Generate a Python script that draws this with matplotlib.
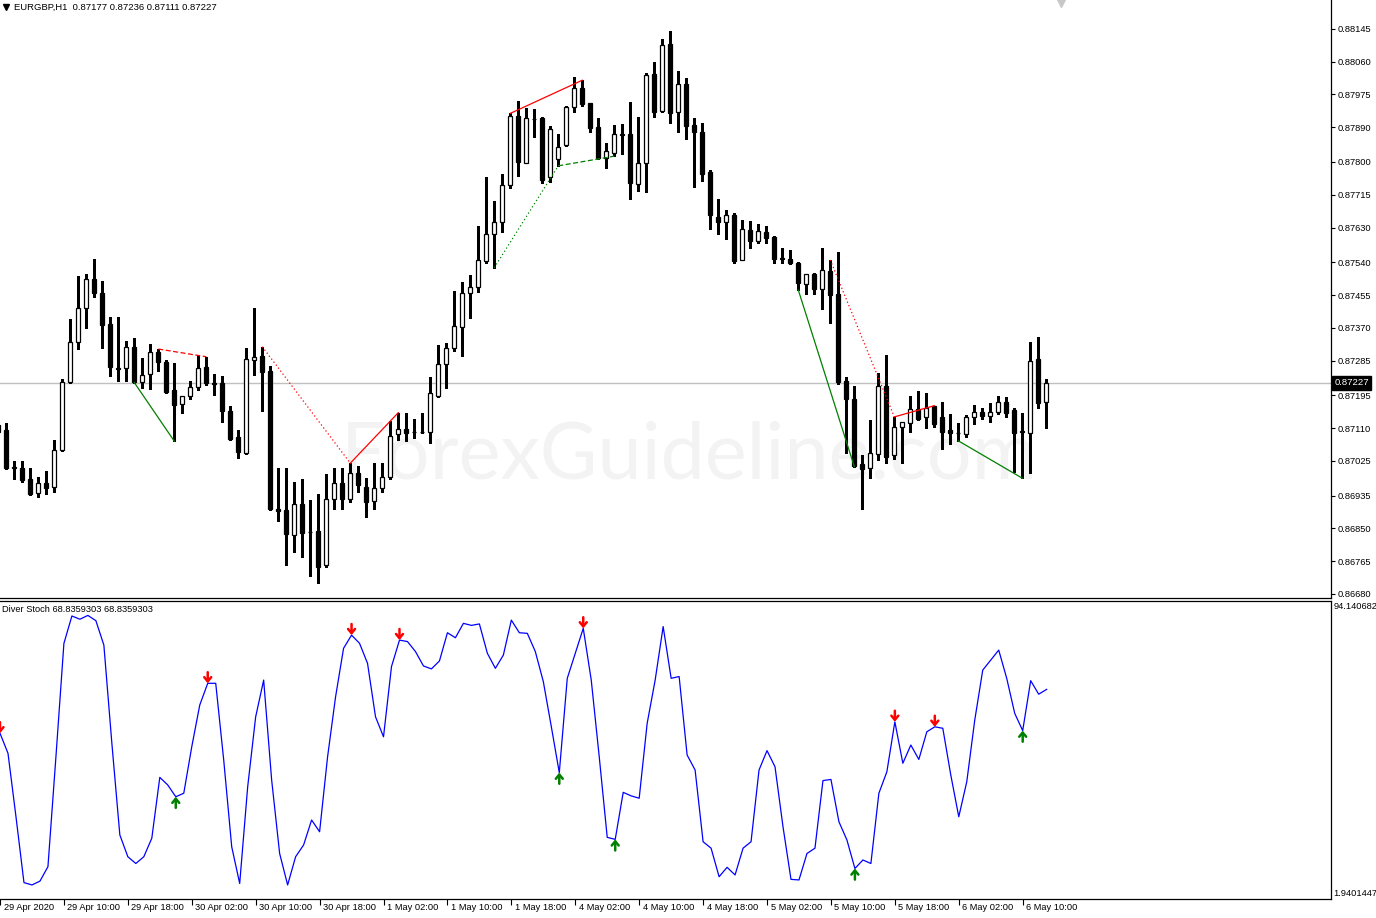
import matplotlib
matplotlib.use('Agg')
import matplotlib.pyplot as plt
from matplotlib.transforms import ScaledTranslation, blended_transform_factory
import numpy as np

# EURGBP H1 bars, index -1 .. 130 (last bar = 6 May 13:00)
opens = [0.87118, 0.87105, 0.87009, 0.87006, 0.86978, 0.86941, 0.86967, 0.86956, 0.87052, 0.87230,
         0.87332, 0.87421, 0.87496, 0.87460, 0.87380, 0.87265, 0.87265, 0.87319, 0.87230, 0.87249,
         0.87306, 0.87281, 0.87208, 0.87172, 0.87192, 0.87216, 0.87268, 0.87226, 0.87226, 0.87154,
         0.87086, 0.87045, 0.87286, 0.87297, 0.87258, 0.86900, 0.86898, 0.86832, 0.86912, 0.86841,
         0.86843, 0.86754, 0.86925, 0.86967, 0.86925, 0.86993, 0.86956, 0.86921, 0.86954, 0.86984,
         0.87094, 0.87107, 0.87099, 0.87100, 0.87101, 0.87193, 0.87275, 0.87317, 0.87371, 0.87460,
         0.87477, 0.87544, 0.87612, 0.87644, 0.87740, 0.87918, 0.87798, 0.87912, 0.87913, 0.87760,
         0.87807, 0.87843, 0.87942, 0.87991, 0.87953, 0.87891, 0.87811, 0.87822, 0.87871, 0.87873,
         0.87742, 0.87797, 0.88028, 0.87933, 0.88106, 0.87930, 0.88001, 0.87895, 0.87878, 0.87774,
         0.87657, 0.87644, 0.87663, 0.87546, 0.87623, 0.87594, 0.87618, 0.87606, 0.87550, 0.87548,
         0.87537, 0.87483, 0.87510, 0.87470, 0.87517, 0.87458, 0.87232, 0.87185, 0.87017, 0.87006,
         0.87043, 0.87219, 0.87039, 0.87112, 0.87122, 0.87159, 0.87138, 0.87167, 0.87138, 0.87105,
         0.87098, 0.87094, 0.87138, 0.87151, 0.87142, 0.87151, 0.87177, 0.87157, 0.87102, 0.87096,
         0.87289, 0.87177]
highs = [0.87131, 0.87124, 0.87025, 0.87025, 0.87006, 0.86982, 0.86999, 0.87078, 0.87236, 0.87393,
         0.87504, 0.87510, 0.87548, 0.87491, 0.87399, 0.87397, 0.87336, 0.87343, 0.87291, 0.87327,
         0.87315, 0.87287, 0.87278, 0.87194, 0.87231, 0.87299, 0.87295, 0.87250, 0.87245, 0.87167,
         0.87105, 0.87318, 0.87421, 0.87321, 0.87271, 0.87006, 0.87006, 0.86969, 0.86977, 0.86923,
         0.86938, 0.86990, 0.87006, 0.87007, 0.87019, 0.87012, 0.86980, 0.87019, 0.87019, 0.87129,
         0.87150, 0.87148, 0.87133, 0.87148, 0.87243, 0.87325, 0.87331, 0.87465, 0.87489, 0.87507,
         0.87634, 0.87762, 0.87699, 0.87769, 0.87926, 0.87958, 0.87939, 0.87937, 0.87916, 0.87893,
         0.87873, 0.87944, 0.88020, 0.88012, 0.87953, 0.87913, 0.87848, 0.87895, 0.87898, 0.87956,
         0.87916, 0.88030, 0.88058, 0.88119, 0.88140, 0.88036, 0.88017, 0.87913, 0.87900, 0.87779,
         0.87704, 0.87675, 0.87668, 0.87650, 0.87647, 0.87639, 0.87634, 0.87608, 0.87576, 0.87572,
         0.87540, 0.87510, 0.87513, 0.87576, 0.87546, 0.87566, 0.87242, 0.87219, 0.87040, 0.87131,
         0.87252, 0.87299, 0.87139, 0.87126, 0.87193, 0.87206, 0.87200, 0.87168, 0.87177, 0.87146,
         0.87122, 0.87144, 0.87170, 0.87161, 0.87174, 0.87194, 0.87190, 0.87161, 0.87148, 0.87333,
         0.87345, 0.87236]
lows = [0.87079, 0.87005, 0.86979, 0.86971, 0.86936, 0.86932, 0.86938, 0.86943, 0.87050, 0.87228,
        0.87314, 0.87370, 0.87451, 0.87318, 0.87245, 0.87233, 0.87233, 0.87228, 0.87215, 0.87211,
        0.87259, 0.87200, 0.87076, 0.87148, 0.87185, 0.87209, 0.87222, 0.87197, 0.87127, 0.87080,
        0.87033, 0.87043, 0.87248, 0.87155, 0.86898, 0.86870, 0.86754, 0.86789, 0.86775, 0.86727,
        0.86707, 0.86749, 0.86899, 0.86899, 0.86919, 0.86944, 0.86880, 0.86901, 0.86943, 0.86977,
        0.87078, 0.87077, 0.87083, 0.87098, 0.87071, 0.87191, 0.87215, 0.87311, 0.87298, 0.87396,
        0.87464, 0.87539, 0.87526, 0.87619, 0.87733, 0.87764, 0.87797, 0.87866, 0.87746, 0.87749,
        0.87790, 0.87841, 0.87930, 0.87946, 0.87879, 0.87808, 0.87784, 0.87815, 0.87821, 0.87703,
        0.87726, 0.87723, 0.87917, 0.87930, 0.87902, 0.87879, 0.87860, 0.87736, 0.87751, 0.87625,
        0.87612, 0.87599, 0.87537, 0.87545, 0.87578, 0.87591, 0.87591, 0.87537, 0.87539, 0.87536,
        0.87468, 0.87457, 0.87457, 0.87418, 0.87383, 0.87223, 0.87045, 0.87010, 0.86900, 0.86980,
        0.87027, 0.87020, 0.87029, 0.87020, 0.87101, 0.87130, 0.87109, 0.87112, 0.87057, 0.87068,
        0.87077, 0.87086, 0.87121, 0.87134, 0.87127, 0.87146, 0.87139, 0.86997, 0.86980, 0.86994,
        0.87163, 0.87111]
closes = [0.87100, 0.87007, 0.87006, 0.86975, 0.86938, 0.86967, 0.86954, 0.87052, 0.87230, 0.87332,
          0.87421, 0.87496, 0.87461, 0.87378, 0.87269, 0.87262, 0.87319, 0.87230, 0.87247, 0.87306,
          0.87282, 0.87204, 0.87171, 0.87194, 0.87216, 0.87265, 0.87226, 0.87225, 0.87155, 0.87082,
          0.87049, 0.87288, 0.87294, 0.87256, 0.86900, 0.86894, 0.86835, 0.86912, 0.86839, 0.86840,
          0.86751, 0.86925, 0.86967, 0.86925, 0.86993, 0.86962, 0.86919, 0.86954, 0.86984, 0.87090,
          0.87107, 0.87096, 0.87100, 0.87101, 0.87200, 0.87275, 0.87317, 0.87375, 0.87460, 0.87476,
          0.87546, 0.87612, 0.87644, 0.87740, 0.87918, 0.87801, 0.87913, 0.87911, 0.87753, 0.87885,
          0.87838, 0.87942, 0.87991, 0.87951, 0.87889, 0.87810, 0.87828, 0.87872, 0.87872, 0.87745,
          0.87797, 0.88026, 0.87930, 0.88103, 0.87928, 0.88001, 0.87894, 0.87879, 0.87770, 0.87663,
          0.87644, 0.87662, 0.87544, 0.87625, 0.87594, 0.87620, 0.87604, 0.87548, 0.87549, 0.87537,
          0.87485, 0.87509, 0.87470, 0.87520, 0.87454, 0.87230, 0.87186, 0.87012, 0.87003, 0.87045,
          0.87219, 0.87036, 0.87112, 0.87125, 0.87159, 0.87134, 0.87163, 0.87121, 0.87101, 0.87096,
          0.87097, 0.87138, 0.87151, 0.87142, 0.87151, 0.87177, 0.87150, 0.87098, 0.87101, 0.87283,
          0.87174, 0.87227]

# Diver Stoch main line
stoch = [53.9, 47.1, 25.5, 3.1, 2.3, 3.6, 8.5, 45.9, 84.5, 93.8,
         92.7, 94.0, 92.2, 83.9, 50.5, 19.3, 11.9, 9.6, 11.9, 18.2,
         38.9, 36.3, 32.3, 33.5, 49.3, 63.5, 70.9, 70.9, 44.8, 15.3,
         2.8, 35.7, 59.5, 72.0, 38.0, 13.0, 2.3, 11.9, 15.9, 24.4,
         20.4, 45.9, 66.3, 82.8, 87.3, 84.5, 77.7, 59.5, 52.7, 76.6,
         85.6, 85.1, 81.7, 76.8, 75.8, 78.5, 88.1, 86.4, 91.3, 90.6,
         91.1, 81.1, 76.0, 80.5, 92.4, 88.1, 87.9, 81.7, 71.5, 56.2,
         40.5, 72.6, 81.1, 89.6, 72.0, 45.9, 18.5, 17.8, 33.8, 32.6,
         31.8, 57.3, 72.0, 90.2, 72.6, 73.2, 46.5, 41.4, 17.0, 14.8,
         5.1, 8.3, 5.7, 14.8, 17.0, 41.4, 48.0, 42.5, 22.1, 4.2,
         4.0, 13.0, 14.8, 37.8, 38.2, 23.8, 17.6, 7.9, 10.8, 9.6,
         33.5, 40.8, 57.8, 43.7, 49.9, 45.0, 54.4, 56.1, 55.6, 39.7,
         25.5, 37.4, 58.4, 75.4, 78.8, 82.2, 72.6, 60.7, 54.8, 71.8,
         67.2, 68.84]

sell_arrows = [-1, 25, 43, 49, 72, 111, 116]
buy_arrows = [21, 69, 76, 106, 127]

# divergence trend lines: (from bar, to bar, price, colour, style)
div_lines = [
    (16, 21, 'low', 'green', 'solid'),
    (19, 25, 'high', 'red', 'dashed'),
    (32, 43, 'high', 'red', 'dotted'),
    (43, 49, 'high', 'red', 'solid'),
    (61, 69, 'low', 'green', 'dotted'),
    (69, 76, 'low', 'green', 'dashed'),
    (63, 72, 'high', 'red', 'solid'),
    (99, 106, 'low', 'green', 'solid'),
    (103, 111, 'high', 'red', 'dotted'),
    (111, 116, 'high', 'red', 'solid'),
    (119, 127, 'low', 'green', 'solid'),
]

price_ticks = [0.88145, 0.88060, 0.87975, 0.87890, 0.87800, 0.87715, 0.87630, 0.87540, 0.87455,
               0.87370, 0.87285, 0.87195, 0.87110, 0.87025, 0.86935, 0.86850, 0.86765, 0.86680]
time_ticks = [-1, 7, 15, 23, 31, 39, 47, 55, 63, 71, 79, 87, 95, 103, 111, 119, 127]
time_labels = ['29 Apr 2020', '29 Apr 10:00', '29 Apr 18:00', '30 Apr 02:00', '30 Apr 10:00',
               '30 Apr 18:00', '1 May 02:00', '1 May 10:00', '1 May 18:00', '4 May 02:00',
               '4 May 10:00', '4 May 18:00', '5 May 02:00', '5 May 10:00', '5 May 18:00',
               '6 May 02:00', '6 May 10:00']
bid = 0.87227

plt.rcParams['font.family'] = ['Liberation Sans', 'DejaVu Sans']
W, H = 1376, 918
fig = plt.figure(figsize=(W / 100, H / 100), dpi=100)


def px_axes(left, top, right, bottom):
    return [left / W, 1 - bottom / H, (right - left) / W, (bottom - top) / H]


ax1 = fig.add_axes(px_axes(0, 0, 1331, 598))
ax2 = fig.add_axes(px_axes(0, 601, 1331, 899))

bars = np.arange(-1, len(opens) - 1)
o = np.array(opens)
h = np.array(highs)
l = np.array(lows)
c = np.array(closes)
up = c >= o

# candles
ax1.vlines(bars, l, h, color='black', lw=0.8, zorder=2, antialiased=False)
body_lo = np.minimum(o, c)
body_h = np.abs(c - o)
ax1.bar(bars[up], body_h[up], bottom=body_lo[up], width=0.5, facecolor='white',
        edgecolor='black', lw=0.9, zorder=3)
ax1.bar(bars[~up], body_h[~up], bottom=body_lo[~up], width=0.5, facecolor='black',
        edgecolor='black', lw=0.9, zorder=3)

# divergence lines
styles = {'solid': '-', 'dashed': (0, (4, 2)), 'dotted': (0, (1, 2))}
for a, b, kind, col, st in div_lines:
    src = h if kind == 'high' else l
    ax1.plot([a, b], [src[a + 1], src[b + 1]], color=col, lw=0.9, ls=styles[st], zorder=4)

# bid line and label
ax1.axhline(bid, color='#c0c0c0', lw=1, zorder=1)
trans = blended_transform_factory(ax1.transAxes, ax1.transData)
ax1.text(1.0025, bid, f'{bid:.5f}', transform=trans, color='white', fontsize=6.8,
         va='center', ha='left', bbox=dict(boxstyle='square,pad=0.22', fc='black', ec='black'),
         zorder=6, clip_on=False)

ax1.text(0.5177, 0.236, 'ForexGuideline.com', transform=ax1.transAxes, fontsize=57,
         family='Lato', color='#f3f3f3', ha='center', va='center', zorder=0.5)
# small grey chevron at the top edge
ax1.plot([0.797], [0.999], marker='v', ms=9, color='#c8c8c8', transform=ax1.transAxes)

ax1.set_xlim(-6.3 / 8, (1331 - 6.3) / 8)
ax1.set_ylim(0.88220 - 598 * 0.00002593, 0.88220)
ax1.set_xticks([])
ax1.yaxis.tick_right()
ax1.set_yticks(price_ticks)
ax1.set_yticklabels([f'{v:.5f}' for v in price_ticks])
ax1.tick_params(axis='y', direction='out', length=3, width=0.8, pad=2, labelsize=6.7)
for s in ['top', 'left']:
    ax1.spines[s].set_visible(False)
for s in ['right', 'bottom']:
    ax1.spines[s].set_linewidth(0.9)

ax1.text(0.0105, 0.9875, 'EURGBP,H1  0.87177 0.87236 0.87111 0.87227', transform=ax1.transAxes,
         fontsize=6.8, va='center', ha='left')
ax1.plot([0.0048], [0.9885], marker='v', ms=4, color='black', transform=ax1.transAxes)

# indicator window
ax2.plot(bars, stoch, color='#0000ff', lw=0.9, zorder=3)
for k in sell_arrows:
    ax2.annotate('', xy=(k, stoch[k + 1]), xytext=(0, 8), textcoords='offset points',
                 arrowprops=dict(arrowstyle='->,head_length=0.3,head_width=0.25', color='#ff0000',
                                 lw=1.8, shrinkA=0, shrinkB=0), zorder=4, annotation_clip=False)
for k in buy_arrows:
    ax2.annotate('', xy=(k, stoch[k + 1]), xytext=(0, -8), textcoords='offset points',
                 arrowprops=dict(arrowstyle='->,head_length=0.3,head_width=0.25', color='#008000',
                                 lw=1.8, shrinkA=0, shrinkB=0), zorder=4)

ax2.set_xlim(ax1.get_xlim())
ax2.set_ylim(-2.48, 98.9)
ax2.set_yticks([])
ax2.spines['left'].set_visible(False)
for s in ['top', 'right', 'bottom']:
    ax2.spines[s].set_linewidth(0.9)
ax2.set_xticks(time_ticks)
ax2.set_xticklabels([])
ax2.tick_params(axis='x', direction='out', length=4, width=0.8)
ttrans = blended_transform_factory(ax2.transData, ax2.transAxes)
offs = ScaledTranslation(3.5 / 100, 0, fig.dpi_scale_trans)
for k, lab in zip(time_ticks, time_labels):
    ax2.text(k, -0.03, lab, transform=ttrans + offs, fontsize=6.7, ha='left', va='center',
             clip_on=False)

ax2.text(0.0015, 0.97, 'Diver Stoch 68.8359303 68.8359303', transform=ax2.transAxes,
         fontsize=6.7, va='center', ha='left')
ax2.text(1.002, 0.983, '94.140682', transform=ax2.transAxes, fontsize=6.7, va='center', ha='left')
ax2.text(1.002, 0.02, '1.9401447', transform=ax2.transAxes, fontsize=6.7, va='center', ha='left')

fig.savefig('out.png', dpi=100, facecolor='white')
